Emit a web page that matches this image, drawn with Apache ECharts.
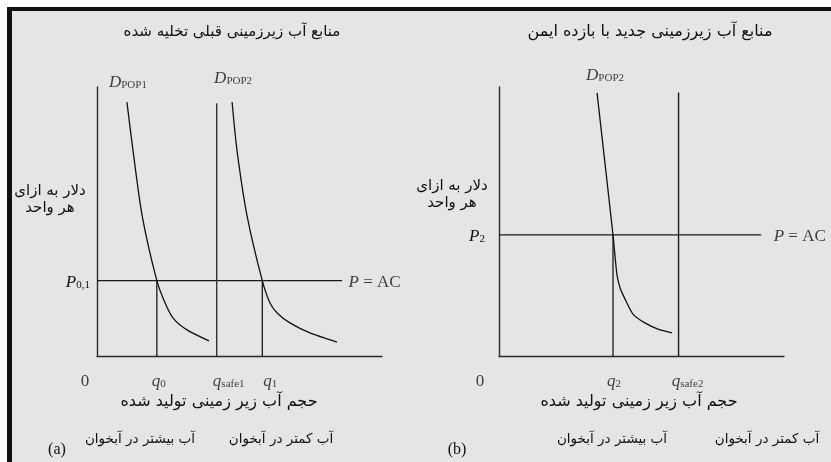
<!DOCTYPE html>
<html>
<head>
<meta charset="utf-8">
<script src="https://cdn.jsdelivr.net/npm/echarts@6/dist/echarts.min.js"></script>
<style>
  html, body { margin: 0; padding: 0; background: #fff; }
  #frame {
    position: absolute; left: 7px; top: 7px; width: 824px; height: 455px;
    box-sizing: border-box; border-left: 5px solid #111; border-top: 4px solid #111;
    background: #e5e5e5;
  }
  #chart { position: absolute; left: 0; top: 0; width: 831px; height: 462px; }
</style>
</head>
<body>
<div id="frame"></div>
<div id="chart"></div>
<script>
// ---- Panel (a): previously depleted aquifer ----
const demandPop1A = [[10.5, 94.4], [12.6, 76.6], [15.8, 52.4], [21, 28], [23.9, 19.7], [26.7, 14.1], [31.6, 9.7], [39.3, 5.6]];
const demandPop2A = [[47.4, 94.4], [49.1, 76.6], [52.6, 52.4], [58, 28], [60.7, 19.7], [63.2, 16.0], [67.7, 12.3], [74.7, 8.6], [84.2, 5.2]];
const priceA = 28;          // P0,1 = AC
const priceEndA = 86;       // extent of the P = AC line
const q0 = 21, qSafe1 = 42, q1 = 58;
const qSafe1Top = 94;
const xTicksA = [0, q0, qSafe1, q1];
const xTickTextA = ['{t|0}', '{q|q}{s|0}', '{q|q}{s|safe1}', '{q|q}{s|1}'];

// ---- Panel (b): new aquifer with safe yield ----
const demandPop2B = [[34.4, 97.8], [40, 45], [41.4, 30.1], [42.5, 25.3], [43.9, 21.9], [47.0, 15.6], [51.2, 12.3], [55.8, 10.0], [60.7, 8.6]];
const priceB = 45;          // P2 = AC
const priceEndB = 92;
const q2 = 40, qSafe2 = 63;
const qSafe2Top = 98;
const xTicksB = [0, q2, qSafe2];
const xTickTextB = ['{t|0}', '{q|q}{s|2}', '{q|q}{s|safe2}'];

const SERIF = '"Liberation Serif", "DejaVu Serif", serif';
const FA = '"DejaVu Sans", sans-serif';
const INK = '#111';

const richMath = {
  q: { fontFamily: SERIF, fontStyle: 'italic', fontSize: 17, color: INK, lineHeight: 20, verticalAlign: 'bottom' },
  p: { fontFamily: SERIF, fontStyle: 'italic', fontSize: 17, color: INK, lineHeight: 20, verticalAlign: 'bottom' },
  d: { fontFamily: SERIF, fontStyle: 'italic', fontSize: 17, color: INK, lineHeight: 20, verticalAlign: 'bottom' },
  s: { fontFamily: SERIF, fontSize: 11, color: INK, lineHeight: 13, verticalAlign: 'bottom' },
  t: { fontFamily: SERIF, fontSize: 17, color: INK, lineHeight: 20, verticalAlign: 'bottom' }
};

function axisPair(idx, priceVal, priceText, margin) {
  return {
    x: {
      type: 'value', gridIndex: idx, min: 0, max: 100,
      axisLine: { show: true, lineStyle: { color: '#2a2a2a', width: 1.4 } },
      axisTick: { show: false }, splitLine: { show: false }, axisLabel: { show: false }
    },
    y: {
      type: 'value', gridIndex: idx, min: 0, max: 100,
      axisLine: { show: true, lineStyle: { color: '#2a2a2a', width: 1.4 } },
      axisTick: { show: false }, splitLine: { show: false },
      axisLabel: {
        show: true, customValues: [priceVal], margin: margin,
        formatter: () => priceText, rich: richMath
      }
    }
  };
}
const axA = axisPair(0, priceA, '{p|P}{s|0,1}', 7);
const axB = axisPair(1, priceB, '{p|P}{s|2}', 14);

function lineSeries(idx, data, color, width, smooth) {
  return {
    type: 'line', xAxisIndex: idx, yAxisIndex: idx, data: data,
    showSymbol: false, symbol: 'none', smooth: smooth || false, silent: true,
    lineStyle: { color: color, width: width }, z: 3
  };
}
function textSeries(idx, items) {
  return {
    type: 'scatter', xAxisIndex: idx, yAxisIndex: idx, silent: true,
    symbolSize: 1, itemStyle: { color: 'rgba(0,0,0,0)' }, z: 5,
    data: items.map(it => ({
      value: it.value,
      label: Object.assign({ show: true, formatter: it.text, rich: richMath, color: INK }, it.label)
    }))
  };
}
const tickOffsetsA = [-12, 2, 12, 8];
const tickOffsetsB = [-19, 1, 9];

const series = [
  // panel (a)
  lineSeries(0, [[0, priceA], [priceEndA, priceA]], '#1a1a1a', 1.3),
  lineSeries(0, [[q0, 0], [q0, priceA]], '#1a1a1a', 1.3),
  lineSeries(0, [[qSafe1, 0], [qSafe1, qSafe1Top]], '#333', 1.4),
  lineSeries(0, [[q1, 0], [q1, priceA]], '#1a1a1a', 1.3),
  lineSeries(0, demandPop1A, '#111', 1.3, 0.25),
  lineSeries(0, demandPop2A, '#111', 1.3, 0.25),
  textSeries(0, xTicksA.map((v, i) => ({ value: [v, 0], text: xTickTextA[i], label: { position: 'inside', offset: [tickOffsetsA[i], 24] } }))),
  textSeries(0, [
    { value: demandPop1A[0], text: '{d|D}{s|POP1}', label: { position: 'inside', offset: [1, -21] } },
    { value: demandPop2A[0], text: '{d|D}{s|POP2}', label: { position: 'inside', offset: [1, -25] } },
    { value: [priceEndA, priceA], text: '{p|P}{t| = AC}', label: { position: 'right', distance: 6 } }
  ]),
  // panel (b)
  lineSeries(1, [[0, priceB], [priceEndB, priceB]], '#1a1a1a', 1.3),
  lineSeries(1, [[q2, 0], [q2, priceB]], '#1a1a1a', 1.3),
  lineSeries(1, [[qSafe2, 0], [qSafe2, qSafe2Top]], '#1a1a1a', 1.4),
  lineSeries(1, demandPop2B, '#111', 1.3, 0.25),
  textSeries(1, xTicksB.map((v, i) => ({ value: [v, 0], text: xTickTextB[i], label: { position: 'inside', offset: [tickOffsetsB[i], 24] } }))),
  textSeries(1, [
    { value: demandPop2B[0], text: '{d|D}{s|POP2}', label: { position: 'inside', offset: [8, -19] } },
    { value: [priceEndB, priceB], text: '{p|P}{t| = AC}', label: { position: 'right', distance: 12 } }
  ])
];

function faText(x, y, text, size, align) {
  return {
    type: 'text', x: x, y: y, silent: true,
    style: { text: text, fill: INK, font: (size || 16) + 'px ' + FA, align: align || 'center', verticalAlign: 'middle', lineHeight: 17 }
  };
}

const chart = echarts.init(document.getElementById('chart'), null, { renderer: 'canvas' });
chart.setOption({
  backgroundColor: 'transparent',
  animation: false,
  grid: [
    { left: 97, top: 87, width: 285, height: 269 },
    { left: 499, top: 87, width: 285, height: 269 }
  ],
  xAxis: [axA.x, axB.x],
  yAxis: [axA.y, axB.y],
  series: series,
  graphic: [
    faText(232, 32, 'منابع آب زیرزمینی قبلی تخلیه شده', 15),
    faText(650, 32, 'منابع آب زیرزمینی جدید با بازده ایمن', 16),
    faText(50, 200, 'دلار به ازای\nهر واحد', 15),
    faText(452, 195, 'دلار به ازای\nهر واحد', 15),
    faText(219, 402, 'حجم آب زیر زمینی تولید شده', 16),
    faText(639, 402, 'حجم آب زیر زمینی تولید شده', 16),
    faText(140, 439, 'آب بیشتر در آبخوان', 13.5),
    faText(281, 439, 'آب کمتر در آبخوان', 13.5),
    faText(612, 439, 'آب بیشتر در آبخوان', 13.5),
    faText(767, 439, 'آب کمتر در آبخوان', 13.5),
    { type: 'text', x: 57, y: 450, silent: true, style: { text: '(a)', fill: INK, font: '16px ' + SERIF, align: 'center', verticalAlign: 'middle' } },
    { type: 'text', x: 457, y: 450, silent: true, style: { text: '(b)', fill: INK, font: '16px ' + SERIF, align: 'center', verticalAlign: 'middle' } }
  ]
});
</script>
</body>
</html>
